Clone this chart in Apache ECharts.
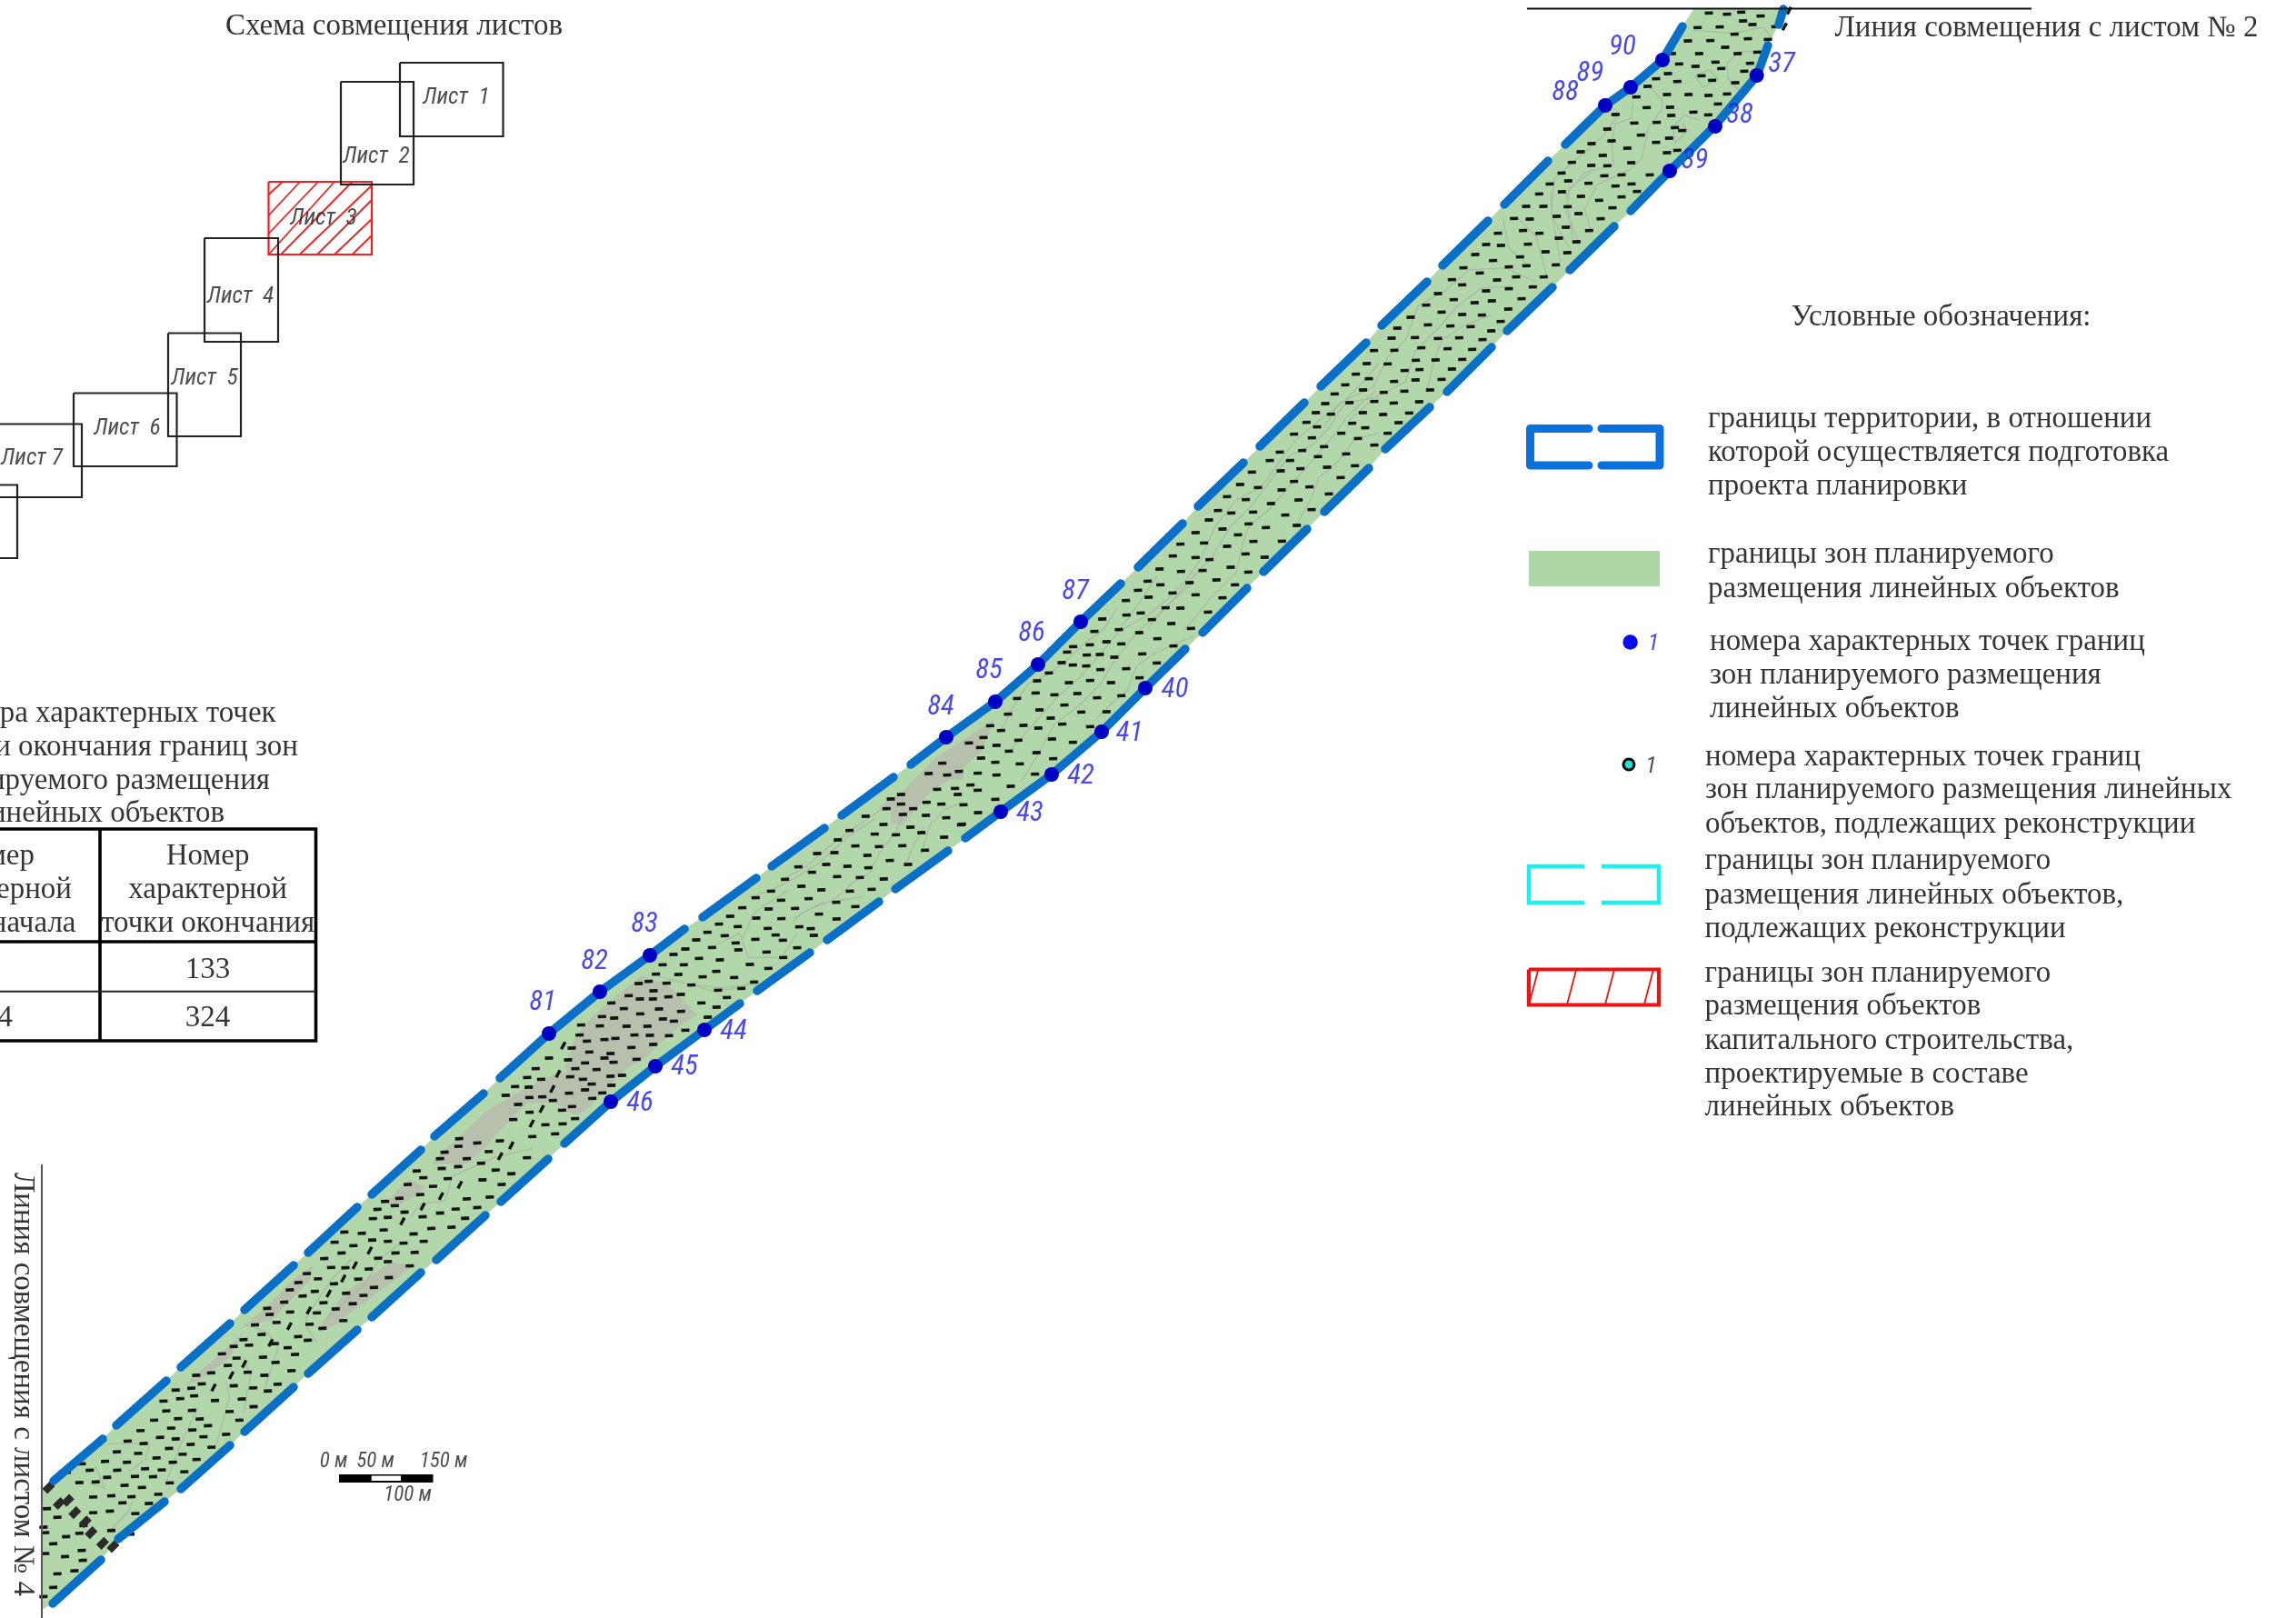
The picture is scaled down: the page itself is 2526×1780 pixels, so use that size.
<!DOCTYPE html>
<html><head><meta charset="utf-8">
<style>html,body{margin:0;padding:0;background:#fff}#c{width:2526px;height:1780px}</style>
<script src="https://cdn.jsdelivr.net/npm/echarts@6/dist/echarts.min.js"></script>
</head><body><div id="c"></div>
<script>
// ---------- map data, in sheet units (1 unit = 1 px of the sheet) ----------
const upperDashes=[
[[59,1629],[113,1583]],[[128,1568],[183,1519]],[[199,1504],[253,1456]],[[269,1441],[323,1392]],
[[339,1378],[393,1328]],[[409,1314],[463,1265]],[[478,1250],[532,1203]],
[[550,1186],[604,1137],[660,1091],[715,1051],[753,1022]],[[773,1009],[832,966]],[[849,953],[907,911]],
[[926,897],[983,855]],[[1002,841],[1041,811],[1095,772],[1142,731],[1189,684],[1233,642]],
[[1252,624],[1301,576]],[[1318,557],[1368,509]],[[1386,491],[1435,443]],[[1453,425],[1503,377]],
[[1520,358],[1570,310]],[[1587,292],[1637,243]],[[1655,225],[1703,177]],
[[1722,159],[1766,116],[1794,96],[1829,66],[1851,29]]];
const lowerDashes=[
[[58,1764],[111,1716]],[[130,1693],[181,1652]],[[199,1638],[253,1590]],[[269,1575],[323,1526]],
[[339,1511],[393,1463]],[[409,1449],[463,1400]],[[480,1386],[534,1337]],[[551,1322],[603,1275]],
[[621,1258],[672,1212],[721,1173],[775,1133],[814,1104]],[[833,1090],[891,1048]],[[910,1034],[967,992]],
[[985,978],[1043,936]],[[1062,922],[1101,893],[1157,852],[1212,805],[1260,757],[1304,714]],
[[1323,696],[1372,647]],[[1390,629],[1438,582]],[[1457,563],[1506,515]],[[1524,494],[1573,448]],
[[1592,431],[1641,382]],[[1658,364],[1708,316]],[[1727,297],[1776,249]],
[[1794,232],[1837,188],[1887,138],[1933,83],[1945,50]],[[1957,27],[1962,10]]];
const bandLeftCut=[[46,1771],[46,1640]];
const bandTopCut=[[1864,9],[1964,9]];

const blueNumbers=[
[1932.7,83,'37',1960,69],[1887,139,'38',1914,125],[1837,188,'39',1864.5,175.5],
[1260,757,'40',1292.7,757],[1212,805,'41',1242.7,805],[1157,852,'42',1189,852],[1101,893,'43',1133,893],
[775,1133,'44',807,1133],[721,1173,'45',753,1172],[672,1212,'46',704,1212],
[604,1137,'81',597,1101],[660,1091,'82',654,1056],[715,1051,'83',709,1015],
[1041,811,'84',1035,776],[1095,772,'85',1088,736],[1142,731,'86',1135,695],[1189,684,'87',1183,649],
[1766,116,'88',1722,100],[1794,96,'89',1749.4,79.6],[1829,66,'90',1785,50]];

const fromCrop=(x0,y0,sx,sy,lo,hi,pts)=>pts.map(([u,v])=>[x0+u/sx,y0+v/sy]).filter(([x,y])=>x-y>=lo&&x-y<hi);

const marks11=[[540,43],[600,47],[647,40],[711,53],[653,69],[684,81],[503,91],[576,89],[625,113],[669,128],[735,130],[471,135],[545,134],[594,156],[635,177],[700,172],[508,177],[418,177],[442,211],[496,219],[562,205],[581,226],[676,209],[657,235],[405,243],[366,260],[436,269],[516,250],[551,265],[627,273],[338,285],[301,320],[402,312],[473,312],[539,315],[600,310],[570,343],[335,355],[412,354],[489,370],[538,379],[232,378],[416,381],[294,406],[368,404],[428,421],[452,431],[205,426],[316,446],[409,456],[219,465],[366,470],[153,474],[271,489],[436,496],[402,504],[117,501],[190,513],[88,536],[284,537],[152,546],[205,547],[54,571],[345,577],[252,577],[195,580],[76,597],[15,607],[143,605],[232,614],[285,607],[303,632],[55,633],[118,648],[252,650],[178,661],[74,682],[222,686],[110,705],[38,715],[183,722],[68,750],[145,761],[44,787],[103,798],[73,834],[35,873],[5,830],[0,680],[760,88]];
const marks9=[[804,30],[766,67],[826,57],[890,65],[730,100],[806,93],[868,107],[687,141],[744,141],[824,142],[860,165],[647,181],[699,183],[788,174],[677,221],[731,230],[818,210],[890,221],[594,230],[555,267],[604,270],[693,266],[795,246],[853,258],[519,300],[667,308],[751,291],[823,294],[578,320],[480,344],[630,341],[688,337],[785,334],[534,361],[654,374],[745,374],[442,383],[591,384],[476,400],[709,407],[396,429],[630,413],[555,420],[448,449],[517,459],[574,453],[672,446],[357,467],[628,480],[408,490],[476,498],[541,500],[306,507],[603,521],[363,532],[437,536],[504,538],[262,543],[572,552],[320,574],[396,577],[466,575],[243,576],[543,581],[341,608],[428,611],[509,613],[185,617],[252,616],[323,649],[388,648],[476,646],[161,660],[230,661],[335,680],[286,683],[442,678],[125,695],[168,710],[408,712],[322,714],[251,719],[90,730],[149,747],[370,747],[285,751],[217,755],[57,760],[334,786],[24,792],[104,789],[186,785],[250,790],[42,827],[148,822],[215,828],[301,823],[113,857],[156,872],[266,855],[76,890],[230,890],[0,825]];
const marks8=[[851,2],[815,35],[780,69],[858,49],[745,100],[838,87],[714,132],[794,129],[876,125],[683,162],[733,167],[838,161],[652,194],[687,209],[803,197],[846,212],[611,233],[670,245],[767,230],[822,247],[564,292],[638,287],[710,274],[876,269],[690,307],[783,298],[531,320],[598,320],[632,347],[720,342],[812,337],[472,358],[567,354],[433,399],[611,389],[492,409],[662,407],[765,376],[390,439],[570,417],[726,430],[452,449],[626,450],[535,462],[360,485],[404,493],[476,490],[669,482],[330,516],[582,500],[461,529],[518,541],[620,534],[286,558],[375,546],[426,565],[236,596],[314,592],[477,587],[571,586],[390,603],[211,635],[286,640],[332,647],[451,628],[514,639],[167,678],[238,686],[309,683],[402,672],[460,688],[127,718],[170,730],[266,723],[355,714],[416,730],[96,748],[209,757],[286,763],[130,771],[57,782],[375,773],[187,805],[236,807],[106,824],[58,829],[327,820],[144,845],[206,858],[270,874],[33,879],[98,888]];
const marks7=[[885,18],[958,26],[1030,22],[1122,12],[1180,28],[848,58],[890,70],[986,63],[1075,55],[1136,70],[816,88],[930,97],[1006,103],[851,111],[1094,114],[776,122],[907,146],[956,147],[825,163],[778,170],[1047,159],[698,183],[862,185],[926,198],[753,218],[991,214],[672,224],[820,228],[880,248],[712,258],[761,265],[657,268],[602,274],[933,272],[582,292],[647,302],[690,300],[738,309],[830,298],[878,328],[564,327],[601,335],[645,338],[692,350],[777,347],[522,361],[821,377],[483,387],[588,393],[658,386],[727,393],[417,445],[478,427],[540,433],[616,429],[681,443],[761,436],[573,467],[491,483],[629,490],[712,489],[387,497],[528,510],[566,530],[438,534],[328,535],[487,543],[658,538],[364,551],[306,574],[532,579],[421,583],[601,590],[258,592],[349,600],[295,607],[390,619],[481,624],[298,642],[536,644],[170,659],[345,656],[426,661],[125,693],[186,698],[225,686],[287,692],[349,698],[476,695],[100,731],[153,745],[212,742],[263,731],[287,748],[396,735],[33,762],[3,776],[221,762],[117,788],[34,794],[167,794],[240,796],[345,778],[39,827],[116,829],[288,822],[183,839],[64,870],[235,860],[17,895],[101,888],[175,902],[37,930],[115,945]];
const marks10=[[829,118],[785,154],[847,158],[885,146],[761,191],[813,206],[873,202],[694,222],[660,237],[881,221],[778,248],[694,254],[826,254],[646,269],[734,269],[700,288],[776,291],[843,299],[577,294],[636,321],[892,322],[725,330],[524,341],[607,353],[677,355],[761,348],[836,363],[485,372],[543,392],[621,394],[698,391],[417,417],[474,414],[583,423],[773,406],[657,440],[447,453],[355,461],[517,459],[586,464],[717,453],[400,479],[483,493],[558,496],[637,501],[311,502],[365,525],[431,537],[525,541],[597,535],[265,541],[214,563],[298,571],[389,566],[480,578],[170,596],[257,600],[344,598],[543,592],[130,624],[216,630],[299,632],[423,617],[481,633],[94,651],[154,658],[256,664],[358,659],[396,665],[56,677],[112,688],[281,686],[406,687],[17,704],[212,701],[304,703],[148,712],[69,728],[156,736],[351,728],[250,742],[28,764],[95,768],[306,761],[195,783],[256,796],[86,806],[39,825],[143,827],[208,842],[5,852],[168,863],[90,870],[119,892]];
const marks5=[[942,20],[1114,13],[1188,16],[995,45],[895,60],[1062,57],[1155,60],[843,82],[927,90],[1018,86],[800,116],[887,120],[974,117],[1108,98],[1173,112],[760,144],[846,150],[929,153],[1052,136],[723,170],[785,178],[884,184],[988,180],[1025,186],[1110,153],[685,197],[910,206],[742,208],[1036,207],[648,222],[843,220],[935,223],[778,232],[612,252],[700,247],[787,255],[880,262],[983,247],[573,270],[657,283],[726,288],[935,280],[537,304],[607,304],[825,303],[886,316],[515,335],[589,336],[714,326],[669,344],[773,346],[491,359],[458,366],[550,365],[632,371],[839,361],[425,406],[507,390],[720,388],[797,382],[597,402],[556,410],[368,430],[462,417],[505,417],[665,430],[749,412],[409,449],[525,450],[715,444],[598,458],[463,466],[337,475],[377,480],[538,483],[686,477],[574,490],[268,503],[330,506],[418,507],[487,507],[612,520],[263,536],[444,536],[495,537],[558,538],[345,551],[381,547],[287,556],[237,579],[434,577],[506,567],[295,592],[162,612],[365,597],[225,618],[281,628],[345,612],[375,626],[451,616],[118,647],[249,647],[319,650],[90,676],[232,674],[136,682],[274,682],[303,698],[365,672],[403,669],[50,706],[95,708],[368,702],[228,728],[281,717],[338,727],[19,735],[97,742],[140,740],[175,752],[305,745],[60,765],[238,772],[98,791],[205,784],[44,815],[248,812],[150,832],[207,829],[182,862],[107,871]];
const marks6=[[1320,8],[1372,22],[1437,15],[1530,0],[1278,52],[1318,33],[1405,50],[1265,73],[1342,73],[1515,70],[1270,105],[1317,99],[1383,88],[1198,113],[1425,110],[1217,135],[1287,138],[1470,122],[1387,142],[1172,157],[1245,163],[1442,157],[1148,202],[1208,190],[1342,204],[1408,198],[1107,212],[1135,226],[1085,238],[1163,247],[1310,237],[1372,232],[1072,268],[1115,264],[1215,262],[1265,250],[1337,267],[1103,305],[1240,300],[1298,296],[1040,316],[990,312],[1189,318],[1070,338],[962,345],[1016,356],[1115,342],[1160,348],[1218,342],[1137,380],[1192,378],[982,380],[1087,397],[932,398],[1115,408],[1178,422],[952,427],[993,428],[1060,432],[1118,460],[882,447],[914,464],[1030,465],[858,476],[960,480],[1075,492],[905,505],[833,500],[995,511],[870,520],[1045,518],[817,540],[930,542],[1014,545],[768,560],[965,562],[834,572],[775,580],[911,575],[987,600],[795,606],[733,614],[890,612],[927,625],[752,645],[857,652],[700,662],[885,664],[672,684],[716,680],[790,675],[827,688],[848,710],[638,708],[756,719],[680,722],[792,736],[655,746],[564,778],[607,770],[712,768],[760,778],[838,763],[798,807],[505,826],[550,820],[580,806],[672,812],[728,819],[770,829],[518,854],[558,845],[618,860],[695,855],[470,862],[729,880],[478,894],[552,892],[660,896],[443,924],[512,919],[574,920],[688,924],[598,942],[404,958],[492,950],[553,956],[650,970],[585,978],[460,980],[367,992],[413,1000],[505,985],[548,1003],[336,1027],[397,1032],[486,1016],[608,1012],[525,1035],[302,1058],[365,1061],[450,1047],[497,1061],[565,1052],[235,1066],[258,1087],[337,1087],[417,1082],[465,1086],[530,1092],[192,1094],[308,1110],[388,1107],[440,1108],[228,1127],[275,1125],[358,1136],[408,1143],[488,1128],[320,1170],[378,1173],[455,1165],[268,1174],[352,1193],[428,1195],[135,1212],[316,1220],[389,1228],[165,1240],[268,1225],[125,1272],[240,1267],[320,1283],[130,1290],[228,1292],[375,1295],[190,1303],[153,1326],[235,1348],[130,1358],[187,1368],[238,1380],[165,1424],[214,1414],[153,1468],[125,1498]];
const leaning6=[[1470,30],[1438,65],[1322,158],[1268,195],[1215,229],[1157,277],[1063,372],[1020,420],[987,463],[945,512],[888,567],[832,618],[778,672],[702,741],[665,778],[614,818]];
const leaning5=[[209,571],[192,664],[173,714],[138,780],[105,828]];
const leaning11=[[790,88],[805,35]];
const blotches6=[[140,1143],[170,1195],[195,1185],[215,1225],[245,1255],[262,1290],[295,1325],[325,1335]];

const treeMarks=[
 ...fromCrop(0,1250,2.613,2.958,-9999,-680,marks6),
 ...fromCrop(550,960,3,3,-680,-175,marks5),
 ...fromCrop(760,800,3,3,-175,150,marks10),
 ...fromCrop(980,620,3,3,150,640,marks7),
 ...fromCrop(1220,400,3,3,640,1045,marks8),
 ...fromCrop(1450,180,3,3,1045,1485,marks9),
 ...fromCrop(1700,0,3,3,1485,9999,marks11)];
const leaningMarks=[
 ...fromCrop(0,1250,2.613,2.958,-9999,9999,leaning6),
 ...fromCrop(550,960,3,3,-9999,9999,leaning5),
 ...fromCrop(1700,0,3,3,-9999,9999,leaning11)];
const blotchMarks=fromCrop(0,1250,2.613,2.958,-9999,9999,blotches6);

const greyPatches=[
 fromCrop(550,960,3,3,-9999,9999,[[470,340],[560,375],[650,470],[600,500],[480,610],[400,660],[350,720],[290,770],[260,800],[220,790],[230,680],[215,640],[250,540],[310,470],[400,395]]),
 fromCrop(500,1180,3,3,-9999,9999,[[0,230],[100,130],[220,60],[340,0],[500,0],[500,50],[430,130],[380,130],[330,100],[240,100],[140,200],[80,270],[0,310]]),
 fromCrop(0,1250,2.613,2.958,-9999,9999,[[1280,40],[1330,0],[1420,0],[1400,30],[1340,90],[1240,90]]),
 fromCrop(0,1250,2.613,2.958,-9999,9999,[[1110,215],[1175,140],[1220,165],[1200,190],[1130,235]]),
 fromCrop(0,1250,2.613,2.958,-9999,9999,[[1120,410],[1190,420],[1060,530],[1000,580],[970,610],[920,640],[930,600],[1000,500],[1060,460]]),
 fromCrop(0,1250,2.613,2.958,-9999,9999,[[900,420],[840,470],[770,550],[690,630],[720,610],[780,600],[830,540],[890,470]]),
 fromCrop(0,1250,2.613,2.958,-9999,9999,[[530,810],[620,720],[700,640],[660,720],[600,770],[560,800]]),
 fromCrop(980,620,3,3,-9999,9999,[[340,515],[300,620],[220,690],[150,730],[100,790],[40,860],[0,860],[0,790],[60,730],[150,640],[260,570]]),
 fromCrop(760,800,3,3,-9999,9999,[[620,265],[680,225],[770,160],[900,60],[900,170],[850,175],[780,220],[720,270],[680,280],[640,275]])
];
const contours=[
 fromCrop(1220,400,3,3,-9999,9999,[[40,880],[130,830],[190,780],[250,720],[300,650],[350,540],[420,450],[500,410],[560,330],[610,260],[690,190],[770,130],[840,60],[890,0]]),
 fromCrop(1220,400,3,3,-9999,9999,[[130,870],[210,780],[290,690],[340,640],[400,540],[470,470],[545,370],[600,300],[670,270],[720,220],[780,130],[890,110]]),
 fromCrop(1220,400,3,3,-9999,9999,[[250,880],[330,780],[420,690],[440,600],[460,540],[530,480],[600,400],[680,310],[740,240],[790,170],[880,90]]),
 fromCrop(1220,400,3,3,-9999,9999,[[620,530],[670,440],[690,380],[760,320],[810,250],[890,230]]),
 fromCrop(1450,180,3,3,-9999,9999,[[20,870],[70,790],[180,740],[230,640],[290,580],[330,470],[420,420],[500,350],[620,345],[720,390]]),
 fromCrop(1450,180,3,3,-9999,9999,[[100,850],[190,770],[290,720],[320,620],[400,540],[460,470],[540,410],[640,405]]),
 fromCrop(1450,180,3,3,-9999,9999,[[360,750],[380,660],[410,580],[490,530],[570,500]]),
 fromCrop(1450,180,3,3,-9999,9999,[[610,180],[630,280],[700,340]]),
 fromCrop(1450,180,3,3,-9999,9999,[[660,180],[720,240],[755,370]]),
 fromCrop(1450,180,3,3,-9999,9999,[[770,90],[770,170],[830,280]]),
 fromCrop(1450,180,3,3,-9999,9999,[[900,30],[830,80],[820,160],[860,260]]),
 fromCrop(1700,0,3,3,-9999,9999,[[340,280],[385,330],[385,360],[340,420],[320,520],[280,560],[170,610],[130,690],[150,760]]),
 fromCrop(1700,0,3,3,-9999,9999,[[290,340],[285,390],[230,410],[220,480],[225,545],[130,570],[70,640],[90,790]]),
 fromCrop(1700,0,3,3,-9999,9999,[[490,100],[620,110],[720,90],[750,130]]),
 fromCrop(1700,0,3,3,-9999,9999,[[495,250],[540,230],[570,260],[520,290],[495,250]]),
 fromCrop(1700,0,3,3,-9999,9999,[[720,170],[640,170],[600,210],[605,260],[640,300]]),
 fromCrop(1700,0,3,3,-9999,9999,[[505,395],[460,380],[420,420],[430,470],[470,430],[450,405]]),
 fromCrop(1700,0,3,3,-9999,9999,[[240,380],[190,450],[30,590],[20,700],[50,860]]),
 fromCrop(980,620,3,3,-9999,9999,[[745,150],[700,220],[630,270],[590,310],[530,360],[450,400],[395,490],[360,560]]),
 fromCrop(980,620,3,3,-9999,9999,[[880,40],[820,130],[740,240],[690,300],[620,380],[550,440],[480,520],[390,620]]),
 fromCrop(980,620,3,3,-9999,9999,[[1000,60],[900,150],[810,230],[740,320],[690,400],[620,470],[540,530],[480,640],[430,720]]),
 fromCrop(980,620,3,3,-9999,9999,[[1000,240],[880,290],[810,340],[780,420],[720,470],[680,510]]),
 fromCrop(760,800,3,3,-9999,9999,[[300,505],[380,460],[450,400],[530,340],[600,290],[650,260]]),
 fromCrop(760,800,3,3,-9999,9999,[[200,560],[260,540],[340,500],[420,450],[520,360],[610,300]]),
 fromCrop(760,800,3,3,-9999,9999,[[340,640],[370,610],[470,570],[540,510],[590,480],[620,420],[680,340],[700,290]]),
 fromCrop(760,800,3,3,-9999,9999,[[80,720],[160,680],[190,760],[300,760],[350,680]]),
 fromCrop(760,800,3,3,-9999,9999,[[710,450],[740,380],[770,330]]),
 fromCrop(760,800,3,3,-9999,9999,[[760,420],[790,320],[840,270],[890,250]]),
 fromCrop(760,800,3,3,-9999,9999,[[0,850],[100,860],[200,850],[230,850]]),
 fromCrop(550,960,3,3,-9999,9999,[[970,150],[1060,100],[1200,80]]),
 fromCrop(550,960,3,3,-9999,9999,[[800,220],[840,130],[950,60]]),
 fromCrop(550,960,3,3,-9999,9999,[[500,335],[700,390],[800,380],[840,350]]),
 fromCrop(0,1250,2.613,2.958,-9999,9999,[[310,1000],[430,1000],[420,1050],[370,1090]]),
 fromCrop(0,1250,2.613,2.958,-9999,9999,[[275,1075],[300,1145],[260,1130]]),
 fromCrop(0,1250,2.613,2.958,-9999,9999,[[480,1120],[520,1000],[570,880]]),
 fromCrop(0,1250,2.613,2.958,-9999,9999,[[620,1010],[660,850],[650,800]]),
 fromCrop(0,1250,2.613,2.958,-9999,9999,[[700,900],[720,780],[700,720]]),
 fromCrop(0,1250,2.613,2.958,-9999,9999,[[760,820],[800,690],[770,640],[700,610]]),
 fromCrop(0,1250,2.613,2.958,-9999,9999,[[940,590],[990,540],[1050,480],[1090,400],[1150,350]]),
 fromCrop(0,1250,2.613,2.958,-9999,9999,[[910,670],[880,620],[880,590],[950,470],[1010,400]]),
 fromCrop(0,1250,2.613,2.958,-9999,9999,[[1180,260],[1210,220],[1280,210],[1300,130],[1420,70],[1530,40]]),
 fromCrop(0,1250,2.613,2.958,-9999,9999,[[320,1280],[370,1220],[380,1190]])
];

// ---------- inset, table, legend, scale ----------
const sheetFrames=[[[440,69],[553.5,69],[553.5,150],[440,150],[440,69]],[[375,90],[455,90],[455,203],[375,203],[375,90]],
[[225,262],[306,262],[306,376],[225,376],[225,262]],[[185,366.5],[265,366.5],[265,480],[185,480],[185,366.5]],
[[81,432.5],[194.5,432.5],[194.5,513],[81,513],[81,432.5]],[[0,466.5],[90,466.5],[90,547],[0,547]],[[0,533.5],[19,533.5],[19,614],[0,614]]];
const sheet3Frame=[[[295.5,200],[409,200],[409,280],[295.5,280],[295.5,200]]];
const sheet3Hatch=[[[295.5,214],[311,200]],[[295.5,237],[330,200]],[[295.5,257],[350,200]],[[295.5,280],[368,200]],[[309,280],[387.5,200]],[[329.5,280],[409,204]],[[349,280],[409,220]],[[368,280],[409,241]],[[387.5,280],[409,259]]];
const sheetLabels=[[502,106,'Лист  1'],[414,170.5,'Лист  2'],[356,239,'Лист  3'],[264.5,324.5,'Лист  4'],[225,415,'Лист  5'],[140,469.5,'Лист  6'],[35,503,'Лист 7']];

const tableHeavy=[[[0,912],[347.5,912],[347.5,1145],[0,1145]],[[0,1036],[347.5,1036]],[[110,912],[110,1145]]];
const tableThin=[[[0,1090.7],[347.5,1090.7]]];
const tableCentre=[[228.6,940,'Номер'],[228.6,977,'характерной'],[228.6,1014,'точки окончания'],[228.6,1065,'133'],[228.6,1118,'324']];
const tableCut=[[38,940,'мер'],[79,977,'ерной'],[83.5,1014,'начала'],[14,1118,'4'],
 [303.6,783,'ра характерных точек'],[328,820,'и окончания границ зон'],[297,857,'ируемого размещения'],[247,893,'инейных объектов']];

const headings=[[433.5,26.5,'Схема совмещения листов'],[2251.5,29,'Линия совмещения с листом № 2'],[2135.5,347,'Условные обозначения:']];
const sideHeading=[[25,1523,'Линия совмещения с листом № 4']];
const legendLines=[
[1879,459,'границы территории, в отношении'],[1879,496,'которой осуществляется подготовка'],[1879,533,'проекта планировки'],
[1879,608,'границы зон планируемого'],[1879,646,'размещения линейных объектов'],
[1881,704,'номера характерных точек границ'],[1881,741,'зон планируемого размещения'],[1881,778,'линейных объектов'],
[1876,830.5,'номера характерных точек границ'],[1876,867,'зон планируемого размещения линейных'],[1876,905,'объектов, подлежащих реконструкции'],
[1875.5,945,'границы зон планируемого'],[1875.5,983,'размещения линейных объектов,'],[1875.5,1020,'подлежащих реконструкции'],
[1875.5,1068.5,'границы зон планируемого'],[1875.5,1105,'размещения объектов'],[1875.5,1143,'капитального строительства,'],[1875.5,1180,'проектируемые в составе'],[1875.5,1216,'линейных объектов']];
const legendBlueBracket=[[[1748,471.5],[1683.5,471.5],[1683.5,512],[1748,512]],[[1762,471.5],[1826,471.5],[1826,512],[1762,512]]];
const legendCyanBracket=[[[1743,953],[1682,953],[1682,993],[1743,993]],[[1762,953],[1825,953],[1825,993],[1762,993]]];
const legendRedFrame=[[[1682,1066.5],[1825,1066.5],[1825,1105.5],[1682,1105.5],[1682,1066.5]]];
const legendRedHatch=[[[1692,1068],[1682.4,1104]],[[1733.8,1068],[1724.3,1104]],[[1775.7,1068],[1766.2,1104]],[[1818.7,1068],[1809.2,1104]]];
const legendGreen=[[[1682,606],[1826,606],[1826,645],[1682,645]]];
const legendBlueDot=[[1793.6,706.5]];
const legendCyanDot=[[1792,841]];
const legendBlueOne=[[1819,706,'1']];
const legendBlackOne=[[1816.5,841,'1']];

const scaleBlack=[[[373,1622],[476.5,1622],[476.5,1631],[373,1631]]];
const scaleWhite=[[[408.7,1623.5],[441,1623.5],[441,1629],[408.7,1629]]];
const scaleLabels=[[367,1606.5,'0 м'],[413,1606.5,'50 м'],[488,1606.5,'150 м'],[448.5,1643,'100 м']];
const sheetLineTop=[[[1680,9.5],[2235,9.5]]];
const sheetLineLeft=[[[46,1281],[46,1780]]];

// ---------- series builders ----------
const SERIF='"Liberation Serif","Times New Roman",serif';
const GOST='"Liberation Sans Narrow","Roboto Condensed",Roboto,sans-serif';
const lines=(segs,color,width,z,extra)=>({type:'line',silent:true,showSymbol:false,symbol:'none',z,animation:false,
  data:segs.flatMap(s=>[...s,['-','-']]),lineStyle:Object.assign({color,width,cap:'butt',join:'miter'},extra||{})});
const polys=(list,color,z)=>({type:'custom',coordinateSystem:'cartesian2d',silent:true,z,animation:false,
  data:list.map((_,i)=>[i,0]),encode:{x:0,y:1},
  renderItem:(p,api)=>({type:'polygon',shape:{points:list[api.value(0)].map(q=>api.coord(q))},style:{fill:color}})});
const dots=(pts,size,color,rotate,z,extra)=>({type:'scatter',silent:true,animation:false,z,data:pts,symbol:(extra&&extra.symbol)||'circle',symbolSize:size,symbolRotate:rotate,
  itemStyle:Object.assign({color,opacity:1},(extra&&extra.item)||{})});
const texts=(items,font,size,color,opt)=>{opt=opt||{};return {type:'scatter',silent:true,animation:false,z:opt.z||30,symbolSize:1,itemStyle:{color:'rgba(0,0,0,0)'},
  data:items.map(t=>({name:t[2],value:[t[0],t[1]]})),
  label:{show:true,position:'inside',formatter:'{b}',fontFamily:font,fontSize:size,color,fontStyle:opt.italic?'italic':'normal',fontWeight:'normal',
    align:opt.align||'center',verticalAlign:'middle',rotate:opt.rotate||0,offset:opt.offset||[0,2.5]}};};

const bandOutline=[...bandLeftCut,...upperDashes.flat(),...bandTopCut,...lowerDashes.flat().reverse()];

const option={
 animation:false,backgroundColor:'#fff',
 grid:{left:0,right:0,top:0,bottom:0,containLabel:false},
 xAxis:{type:'value',min:0,max:2526,show:false},
 yAxis:{type:'value',min:0,max:1780,inverse:true,show:false},
 series:[
  polys([bandOutline],'#b1d7aa',1),
  polys(greyPatches,'#b7bfad',2),
  lines(contours,'#a9b9a2',1.2,3),
  dots(treeMarks,[9,3.6],'#141414',2,4,{symbol:'rect'}),
  dots(leaningMarks,[9,3.4],'#141414',62,4,{symbol:'rect'}),
  dots(blotchMarks,[12,8],'#2a2a2a',45,4,{symbol:'rect'}),
  lines(upperDashes,'#0a6fc6',9.5,5,{cap:'round',join:'round'}),
  lines(lowerDashes,'#0a6fc6',9.5,5,{cap:'round',join:'round'}),
  dots(blueNumbers.map(b=>[b[0],b[1]]),16,'#0000c4',0,6),
  texts(blueNumbers.map(b=>[b[3],b[4],b[2]]),GOST,31,'#1c1ce0',{italic:true,offset:[0,2]}),
  lines(sheetLineTop,'#111',2,7),
  lines(sheetLineLeft,'#555',2,7),
  lines(sheet3Hatch,'#f02020',1.8,8),
  lines(sheet3Frame,'#f02020',2.2,8),
  lines(sheetFrames,'#222',2.2,9),
  texts(sheetLabels,GOST,25.5,'#222',{italic:true,offset:[0,2]}),
  lines(tableHeavy,'#000',3.6,9),
  lines(tableThin,'#222',2,9),
  texts(tableCentre,SERIF,33,'#000'),
  texts(tableCut,SERIF,33,'#000',{align:'right'}),
  texts(headings,SERIF,33,'#000'),
  texts(sideHeading,SERIF,33,'#000',{rotate:-90,offset:[0,0]}),
  texts(legendLines,SERIF,33,'#000',{align:'left'}),
  lines(legendBlueBracket,'#0a70dc',9,9,{cap:'round',join:'round'}),
  polys(legendGreen,'#aed6a6',9),
  dots(legendBlueDot,16.5,'#0a0af0',0,9),
  dots(legendCyanDot,12,'#22e0d8',0,9,{item:{borderColor:'#000',borderWidth:3}}),
  texts(legendBlueOne,GOST,26,'#1c1ce0',{italic:true,offset:[0,2]}),
  texts(legendBlackOne,GOST,26,'#222',{italic:true,offset:[0,2]}),
  lines(legendCyanBracket,'#19f0f0',4.5,9),
  lines(legendRedFrame,'#f01010',4.2,9),
  lines(legendRedHatch,'#f01010',1.8,9),
  polys(scaleBlack,'#000',9),
  polys(scaleWhite,'#fff',10),
  texts(scaleLabels,GOST,23,'#222',{italic:true,offset:[0,2]})
 ]
};
const chart=echarts.init(document.getElementById('c'),null,{renderer:'canvas',width:2526,height:1780});
chart.setOption(option);
</script></body></html>
